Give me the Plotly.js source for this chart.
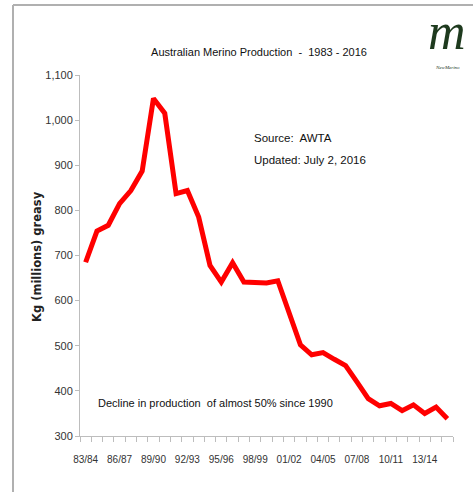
<!DOCTYPE html>
<html>
<head>
<meta charset="utf-8">
<script src="https://cdn.plot.ly/plotly-3.0.1.min.js"></script>
<style>html,body{margin:0;padding:0;background:#fff;}#chart{width:473px;height:492px;}</style>
</head>
<body>
<div id="chart"></div>
<script>
const seasons = ["83/84","84/85","85/86","86/87","87/88","88/89","89/90","90/91","91/92","92/93","93/94","94/95","95/96","96/97","97/98","98/99","99/00","00/01","01/02","02/03","03/04","04/05","05/06","06/07","07/08","08/09","09/10","10/11","11/12","12/13","13/14","14/15","15/16"];
const production = [685,754,767,815,844,887,1048,1015,837,844,785,678,641,684,641,639,639,644,574,502,480,485,470,456,420,383,367,372,356,369,350,364,338];
const labelEvery = 3;
const yTicks = [300,400,500,600,700,800,900,1000,1100];

const idx = seasons.map((s, i) => i);
const tickIdx = idx.filter(i => i % labelEvery === 0);
const tickText = tickIdx.map(i => seasons[i]);

const FONT = "'Liberation Sans Narrow', 'Arial Narrow', 'Liberation Sans', sans-serif";

const trace = {
  x: idx, y: production, text: seasons,
  type: 'scatter', mode: 'lines',
  line: {color: '#ff0000', width: 5},
  hovertemplate: '%{text}: %{y}<extra></extra>'
};

const px = v => (v - 80) / 373;
const py = v => (436 - v) / 361;

const layout = {
  width: 473, height: 492,
  margin: {l: 80, r: 20, t: 75, b: 56},
  paper_bgcolor: '#ffffff', plot_bgcolor: '#ffffff',
  showlegend: false,
  font: {family: FONT, color: '#222'},
  title: {
    text: 'Australian Merino Production  -  1983 - 2016',
    font: {family: FONT, size: 11, color: '#111'},
    xref: 'paper', x: px(259), xanchor: 'center',
    yref: 'container', y: 1 - 52/492, yanchor: 'middle'
  },
  xaxis: {
    range: [-0.5, seasons.length - 0.5],
    tickmode: 'array', tickvals: tickIdx, ticktext: tickText,
    ticks: '', showgrid: false, zeroline: false,
    showline: true, linecolor: '#bdbdbd', linewidth: 1,
    ticklabelstandoff: 14,
    tickfont: {family: FONT, size: 10, color: '#333'},
    minor: {tick0: -0.5, dtick: 1, ticks: 'outside', ticklen: 5, tickcolor: '#bdbdbd', showgrid: false}
  },
  yaxis: {
    range: [300, 1100],
    tickmode: 'array', tickvals: yTicks,
    tickformat: ',d',
    ticks: 'outside', ticklen: 4, tickcolor: '#bdbdbd',
    showgrid: false, zeroline: false,
    showline: true, linecolor: '#bdbdbd', linewidth: 1,
    tickfont: {family: FONT, size: 11, color: '#333'}
  },
  shapes: [
    {type: 'line', xref: 'paper', yref: 'paper', x0: px(13), x1: px(13), y0: py(5), y1: py(495), line: {color: '#b0b0b0', width: 2}},
    {type: 'line', xref: 'paper', yref: 'paper', x0: px(13), x1: px(476), y0: py(5), y1: py(5), line: {color: '#b0b0b0', width: 2}}
  ],
  annotations: [
    {text: 'Kg (millions) greasy', textangle: -90, xref: 'paper', yref: 'paper', x: px(37), y: py(257), xanchor: 'center', yanchor: 'middle', showarrow: false, font: {family: "'DejaVu Sans', sans-serif", size: 11.5, color: '#222', weight: 'bold'}},
    {text: 'Source:  AWTA', xref: 'paper', yref: 'paper', x: px(252), y: py(138), xanchor: 'left', yanchor: 'middle', showarrow: false, font: {family: FONT, size: 11.5, color: '#111'}},
    {text: 'Updated: July 2, 2016', xref: 'paper', yref: 'paper', x: px(252), y: py(160), xanchor: 'left', yanchor: 'middle', showarrow: false, font: {family: FONT, size: 11.5, color: '#111'}},
    {text: 'Decline in production  of almost 50% since 1990', xref: 'paper', yref: 'paper', x: px(96), y: py(403), xanchor: 'left', yanchor: 'middle', showarrow: false, font: {family: FONT, size: 11, color: '#111'}},
    {text: 'm', xref: 'paper', yref: 'paper', x: px(447), y: py(62), xanchor: 'center', yanchor: 'bottom', showarrow: false, font: {family: "'Liberation Serif', 'DejaVu Serif', serif", size: 52, color: '#1e3a1e', style: 'italic'}},
    {text: 'NewMerino', xref: 'paper', yref: 'paper', x: px(447), y: py(62.5), xanchor: 'center', yanchor: 'top', showarrow: false, font: {family: "'Liberation Serif', serif", size: 5, color: '#1e3a1e', style: 'italic'}}
  ]
};

Plotly.newPlot('chart', [trace], layout, {displayModeBar: false, staticPlot: true});
</script>
</body>
</html>
